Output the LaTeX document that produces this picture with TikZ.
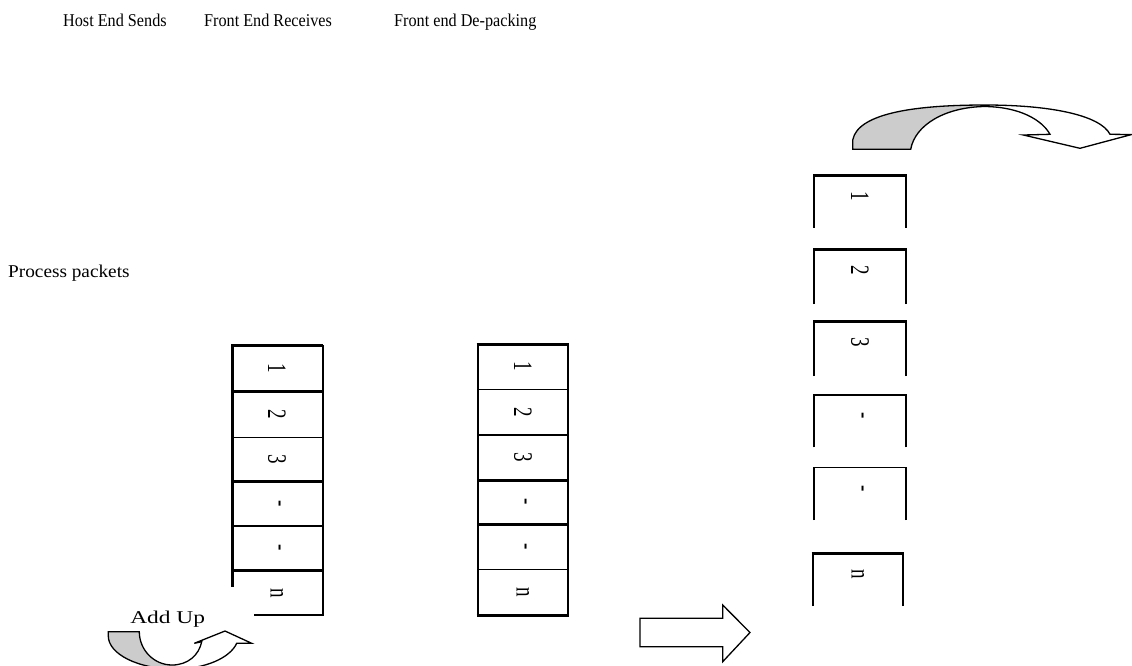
\documentclass[tikz,border=0pt]{standalone}
\usepackage{fontspec}
\setmainfont{Liberation Serif}
\usepackage{graphicx}
\newcommand{\rdig}[1]{\rotatebox{-90}{\scalebox{1}[1.4]{#1}}}
\begin{document}
\begin{tikzpicture}[x=1pt,y=-1pt,
  thickln/.style={line width=3pt},
  medln/.style={line width=2pt},
  thinln/.style={line width=1.2pt},
  outln/.style={line width=1.3pt, line join=miter},
  lbl/.style={font=\fontsize{18}{20}\selectfont, inner sep=0pt, anchor=base west},
  dig/.style={font=\fontsize{19}{21}\selectfont, inner sep=0pt},
  backgray/.style={fill={rgb,255:red,204;green,204;blue,204}}]
\useasboundingbox (0,0) rectangle (1132,665);
\clip (0,0) rectangle (1132,665);

% headings
\node[lbl, xscale=0.9] (hdr1) at (63,26) {Host End Sends};
\node[lbl, xscale=0.9] (hdr2) at (204,26) {Front End Receives};
\node[lbl, xscale=0.9] (hdr3) at (394,26) {Front end De-packing};
\node[lbl, xscale=1.07] (proc) at (8,277) {Process packets};
\node[lbl, xscale=1.3] (addup) at (130,623.3) {Add Up};

% left stack
\draw[thickln] (232.7,586.7) -- (232.7,345) -- (322.7,345);
\draw[medln] (322.7,345) -- (322.7,615) -- (254,615);
\draw[thickln] (232.7,391) -- (322.7,391);
\draw[thinln] (232.7,437.7) -- (322.7,437.7);
\draw[thickln] (232.7,481.7) -- (322.7,481.7);
\draw[thinln] (232.7,526) -- (322.7,526);
\draw[thickln] (232.7,570) -- (322.7,570);
\node[dig] (L1) at (277,368) {\rdig{1}};
\node[dig] (L2) at (277,414.3) {\rdig{2}};
\node[dig] (L3) at (277,459.7) {\rdig{3}};
\node[dig] (L4) at (277,503.8) {\rdig{-}};
\node[dig] (L5) at (277,548) {\rdig{-}};
\node[dig] (L6) at (277,593) {\rdig{n}};

% middle stack
\draw[medln] (477.7,344) -- (477.7,615);
\draw[medln] (568.3,344) -- (568.3,615);
\draw[thickln] (476.7,344) -- (569.3,344);
\draw[thinln] (477.7,389.3) -- (568.3,389.3);
\draw[thinln] (477.7,435) -- (568.3,435);
\draw[thickln] (477.7,480) -- (568.3,480);
\draw[thickln] (477.7,524) -- (568.3,524);
\draw[thinln] (477.7,569.3) -- (568.3,569.3);
\draw[thickln] (476.7,615) -- (569.3,615);
\node[dig] (M1) at (523,366.7) {\rdig{1}};
\node[dig] (M2) at (523,412.2) {\rdig{2}};
\node[dig] (M3) at (523,457.5) {\rdig{3}};
\node[dig] (M4) at (523,502) {\rdig{-}};
\node[dig] (M5) at (523,546.7) {\rdig{-}};
\node[dig] (M6) at (523,592.2) {\rdig{n}};

% right stack (open boxes)
\foreach \t/\b/\w in {175/227.7/thickln, 249.3/304/thickln, 321.7/376/thickln,
                      395/447.3/thinln, 467.3/520/thinln}{
  \draw[medln] (814.3,\b) -- (814.3,\t);
  \draw[medln] (905.7,\b) -- (905.7,\t);
  \draw[\w] (813.3,\t) -- (906.7,\t);
}
\draw[medln] (812.7,606) -- (812.7,553.3);
\draw[medln] (903.3,606) -- (903.3,553.3);
\draw[thickln] (811.7,553.3) -- (904.3,553.3);
\node[dig] (R1) at (860,196) {\rdig{1}};
\node[dig] (R2) at (860,270.3) {\rdig{2}};
\node[dig] (R3) at (860,342.7) {\rdig{3}};
\node[dig] (R4) at (860,416) {\rdig{-}};
\node[dig] (R5) at (860,488.3) {\rdig{-}};
\node[dig] (R6) at (858,574.3) {\rdig{n}};

% block arrow
\draw[outln] (640,618.3) -- (722.7,618.3) -- (722.7,605) -- (750,632.5)
  -- (722.7,661.7) -- (722.7,646.7) -- (640,646.7) -- cycle;

% top curved arrow
\def\toparrow{(852.7,149.3) -- (852.7,140) .. controls (858,112) and (920,105) .. (985,105)
  .. controls (1050,105) and (1100,115) .. (1110,134.3) -- (1131.7,134.5) -- (1080,148.3)
  -- (1023.3,135) -- (1050,134.3) .. controls (1042,120) and (1020,107) .. (985,106.5)
  .. controls (945,107) and (915,125) .. (910.7,149.3) -- cycle}
\begin{scope}
  \clip (840,90) rectangle (985.5,160);
  \fill[backgray] \toparrow;
\end{scope}
\draw[outln] \toparrow;

% bottom curved arrow
\def\botarrow{(108.3,631.7) -- (139.3,631.7) .. controls (139.3,650) and (154,665) .. (172,665)
  .. controls (188,665) and (199,655) .. (201.7,641.7) -- (194.3,643.3) -- (225,631)
  -- (251.7,643.3) -- (236.7,643.3) .. controls (230,658) and (205,669) .. (175,669)
  .. controls (138,669) and (108.3,654) .. (108.3,636) -- cycle}
\begin{scope}
  \clip (100,620) rectangle (176,680);
  \fill[backgray] \botarrow;
\end{scope}
\draw[outln] \botarrow;
\end{tikzpicture}
\end{document}
